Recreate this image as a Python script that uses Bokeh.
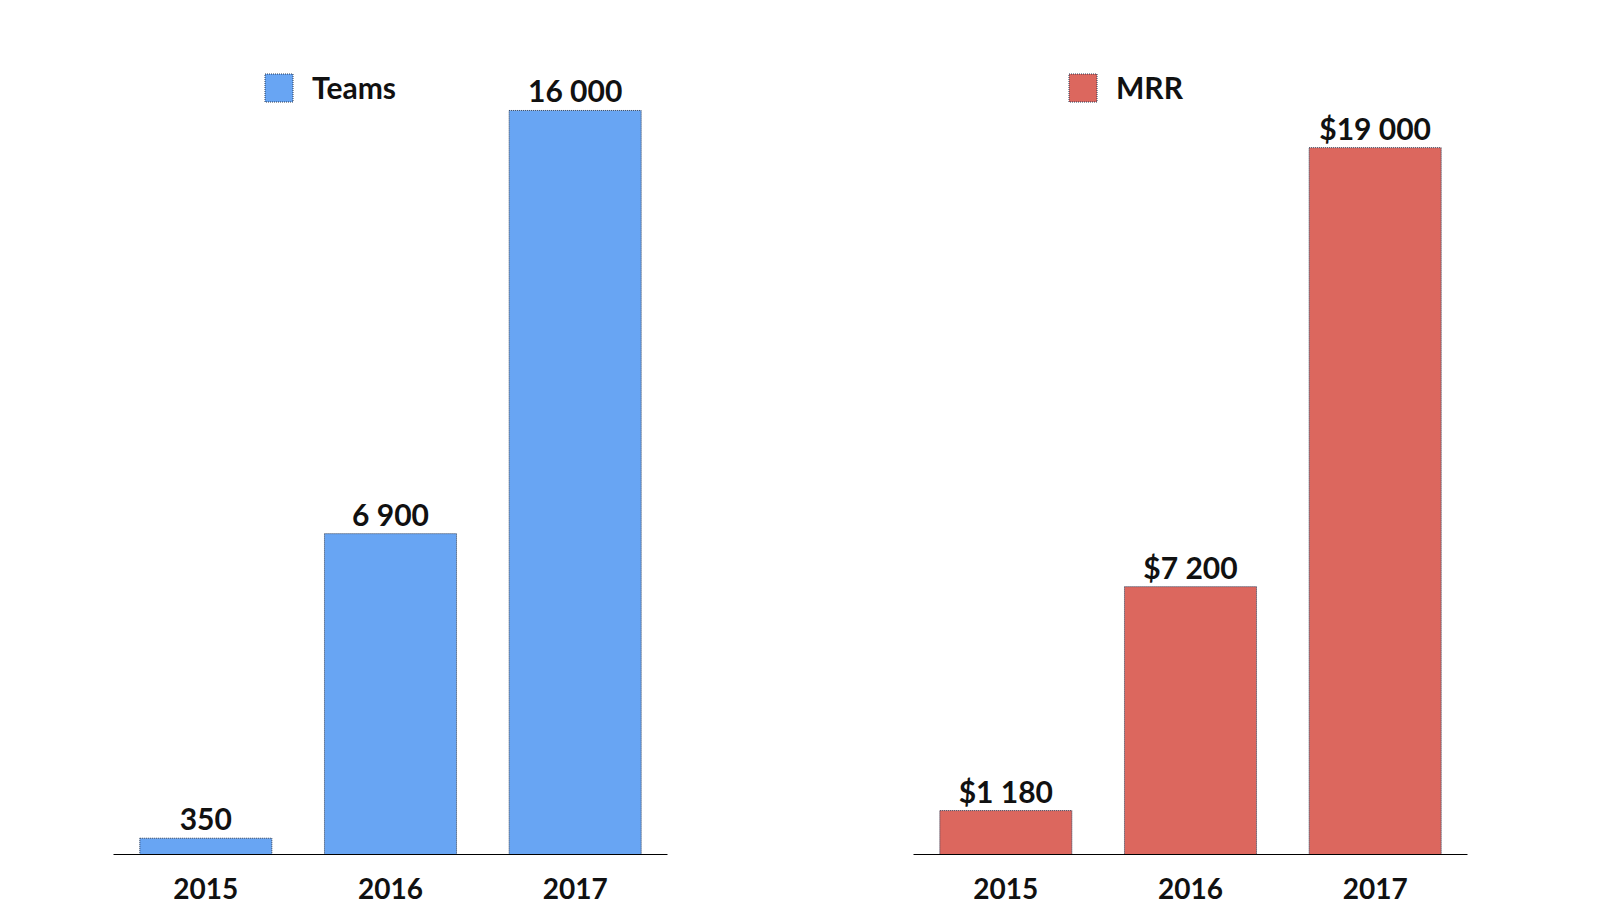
from bokeh.plotting import figure
from bokeh.models import ColumnDataSource, LabelSet, Range1d, FactorRange
from bokeh.core.properties import value
from bokeh.layouts import row
from bokeh.embed import file_html
from bokeh.resources import INLINE

years = ["2015", "2016", "2017"]
teams = [350, 6900, 16000]
teams_labels = ["350", "6 900", "16 000"]
mrr = [1180, 7200, 19000]
mrr_labels = ["$1 180", "$7 200", "$19 000"]

FONT = "Lato"


def make_chart(values, labels, color, legend, y_end, border_left, legend_x):
    src = ColumnDataSource(dict(x=years, top=values, lab=labels))
    p = figure(x_range=FactorRange(*years, range_padding=0), y_range=Range1d(0, y_end),
               frame_width=554, frame_height=814,
               min_border_left=border_left, min_border_right=141, min_border_top=40,
               min_border_bottom=54,
               output_backend="svg", toolbar_location=None)
    p.vbar(x="x", top="top", width=0.715, source=src, fill_color=color,
           line_color="#2a3a55", line_width=1, line_dash="1 1", legend_label=legend)
    lbl = LabelSet(x="x", y="top", text="lab", source=src, text_align="center",
                   text_baseline="alphabetic", y_offset=8, text_font=value(FONT),
                   text_font_style="bold", text_font_size="30px", text_color="#111111")
    p.add_layout(lbl)
    p.yaxis.visible = False
    p.xgrid.visible = False
    p.ygrid.visible = False
    p.outline_line_color = None
    ax = p.xaxis[0]
    ax.axis_line_color = "#000000"
    ax.axis_line_width = 1
    ax.major_tick_out = 0
    ax.major_tick_in = 0
    ax.minor_tick_out = 0
    ax.major_label_standoff = 23
    ax.major_label_text_font = FONT
    ax.major_label_text_font_style = "bold"
    ax.major_label_text_font_size = "28px"
    ax.major_label_text_color = "#111111"
    lg = p.legend[0]
    lg.location = (legend_x, 814 - 30 - 35)
    lg.padding = 0
    lg.margin = 0
    lg.border_line_alpha = 0
    lg.background_fill_alpha = 0
    lg.glyph_width = 35
    lg.glyph_height = 35
    lg.label_height = 35
    lg.label_standoff = 16
    lg.label_text_font = FONT
    lg.label_text_font_style = "bold"
    lg.label_text_font_size = "30px"
    lg.label_text_color = "#111111"
    return p


p1 = make_chart(teams, teams_labels, "#68a5f3", "Teams", 17505, 113, 148)
p2 = make_chart(mrr, mrr_labels, "#dc675e", "MRR", 21880, 105, 152)
layout = row(p1, p2, spacing=0)

open("out.html", "w").write(file_html(layout, INLINE))
